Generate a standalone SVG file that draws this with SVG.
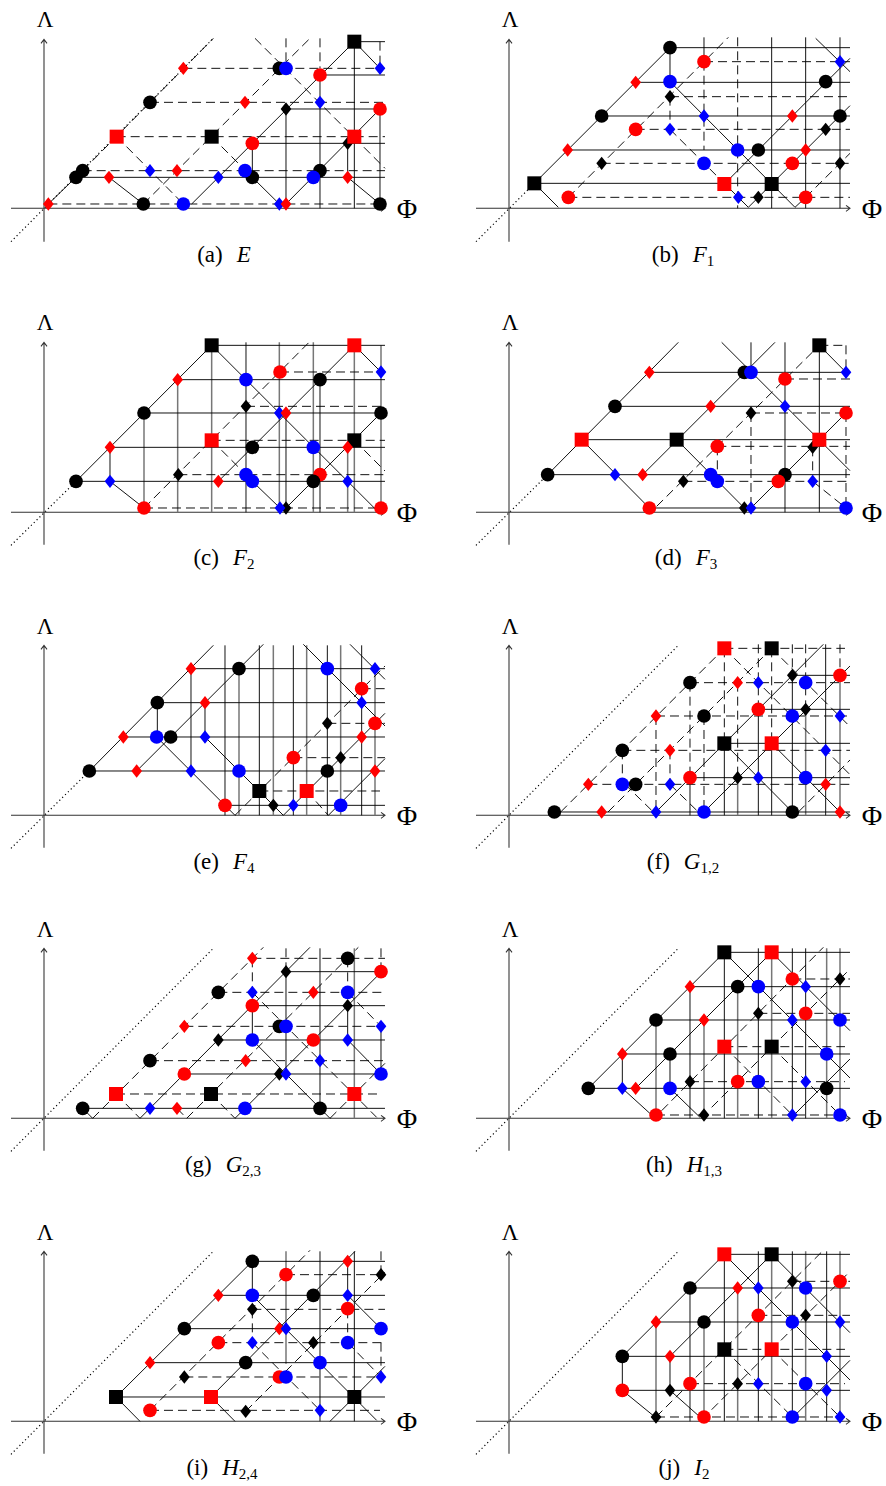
<svg xmlns="http://www.w3.org/2000/svg" xmlns:xlink="http://www.w3.org/1999/xlink" width="886" height="1486" viewBox="0 0 886 1486">
<style>
.k{fill:#000}.r{fill:#f00}.b{fill:#00f}
.s{stroke:#000;stroke-width:2.8;fill:none}
.g{stroke:#777;stroke-width:4.5;fill:none}
.d{stroke:#000;stroke-width:2.8;fill:none;stroke-dasharray:27 15}
.o{stroke:#000;stroke-width:3.6;fill:none;stroke-dasharray:3.5 8.5}
.ax{stroke:#333;stroke-width:3.2;fill:none}
text{font-family:"Liberation Serif","DejaVu Serif",serif;fill:#000}
.lam{font-size:23px}.phi{font-size:28px}.cap{font-size:23px}
.it{font-style:italic}.sub{font-size:15px}
</style>
<defs>
<circle id="C" r="20.5"/>
<rect id="S" x="-21" y="-21" width="42" height="42"/>
<path id="D" d="M0,-20 L16,0 L0,20 L-16,0Z"/>
</defs>

<!-- Panel (a) -->
<g id="pa" transform="translate(0 0) scale(0.333333)">
<g id="pa-conn">
<path class="ax" d="M33,625 H1155 M1143,616 L1155,625 L1143,634 M132,725 V118 M123,130 L132,118 L141,130"/>
<path class="o" d="M33,725 L640,115"/>
<path class="s" d="M145,612 L248,512 M228,532 H1155 M327,532 L430,612 M575,612 L1063,125 M757,532 L838,612 M858,612 L1150,317 M1043,532 L1140,612 M1063,125 L1140,205 M858,327 V625 M960,225 V625 M1063,125 V625 M1140,327 V612 M757,430 V532 M1043,430 V532 M1063,125 H1155 M960,225 H1155 M858,327 H1155 M757,430 H1155"/>
<path class="d" d="M248,512 L640,115 M248,512 H1155 M145,612 H1140 M430,612 L930,115 M350,410 L550,612 M635,410 L740,515 M765,115 L1155,505 M858,115 V205 M960,115 V205 M1140,125 V205 M550,205 H1155 M450,307 H1155 M350,410 H1155"/>
</g>
<g id="pa-nodes">
<use id="a1" href="#C" x="228" y="532" class="k"/>
<use id="a2" href="#C" x="248" y="512" class="k"/>
<use id="a3" href="#C" x="430" y="612" class="k"/>
<use id="a4" href="#C" x="757" y="532" class="k"/>
<use id="a5" href="#C" x="960" y="512" class="k"/>
<use id="a6" href="#C" x="1140" y="612" class="k"/>
<use id="a7" href="#S" x="635" y="410" class="k"/>
<use id="a8" href="#D" x="1043" y="430" class="k"/>
<use id="a9" href="#C" x="450" y="307" class="k"/>
<use id="a10" href="#D" x="858" y="327" class="k"/>
<use id="a11" href="#C" x="838" y="205" class="k"/>
<use id="a12" href="#S" x="1063" y="125" class="k"/>
<use id="a13" href="#D" x="450" y="512" class="b"/>
<use id="a14" href="#C" x="550" y="612" class="b"/>
<use id="a15" href="#D" x="655" y="532" class="b"/>
<use id="a16" href="#C" x="735" y="512" class="b"/>
<use id="a17" href="#D" x="838" y="612" class="b"/>
<use id="a18" href="#C" x="940" y="532" class="b"/>
<use id="a19" href="#D" x="960" y="307" class="b"/>
<use id="a20" href="#C" x="858" y="205" class="b"/>
<use id="a21" href="#D" x="1140" y="205" class="b"/>
<use id="a22" href="#D" x="145" y="612" class="r"/>
<use id="a23" href="#D" x="327" y="532" class="r"/>
<use id="a24" href="#D" x="531" y="512" class="r"/>
<use id="a25" href="#D" x="858" y="612" class="r"/>
<use id="a26" href="#D" x="1043" y="532" class="r"/>
<use id="a27" href="#S" x="350" y="410" class="r"/>
<use id="a28" href="#C" x="757" y="430" class="r"/>
<use id="a29" href="#S" x="1063" y="410" class="r"/>
<use id="a30" href="#D" x="735" y="307" class="r"/>
<use id="a31" href="#C" x="1140" y="327" class="r"/>
<use id="a32" href="#D" x="550" y="205" class="r"/>
<use id="a33" href="#C" x="960" y="225" class="r"/>
</g>
</g>

<!-- Panel (b) -->
<g id="pb" transform="translate(465 0) scale(0.333333)">
<g id="pb-conn">
<path class="ax" d="M33,625 H1155 M1143,616 L1155,625 L1143,634 M132,725 V118 M123,130 L132,118 L141,130"/>
<path class="o" d="M33,725 L208,550"/>
<path class="s" d="M208,550 L615,143 M208,550 L280,622 M208,550 H1155 M308,450 H1155 M410,348 H1155 M512,247 H1155 M615,143 H1155 M615,143 V245 M615,245 L990,622 M820,592 L850,622 L1155,317 M778,552 L1155,175 M990,622 L1022,592 M1052,115 L1155,215 M717,112 V185 M920,112 V625 M1022,112 V625 M1125,112 V625"/>
<path class="d" d="M310,592 L790,112 M310,592 H1155 M410,490 H1155 M512,388 H1155 M615,290 H1155 M717,185 H1155 M615,290 V388 M615,388 L820,592 M1022,592 L1155,460 M717,185 V450 M818,112 V625"/>
</g>
<g id="pb-nodes">
<use id="b1" href="#S" x="208" y="550" class="k"/>
<use id="b2" href="#D" x="410" y="490" class="k"/>
<use id="b3" href="#C" x="410" y="348" class="k"/>
<use id="b4" href="#D" x="615" y="290" class="k"/>
<use id="b5" href="#C" x="615" y="143" class="k"/>
<use id="b6" href="#C" x="880" y="450" class="k"/>
<use id="b7" href="#D" x="880" y="592" class="k"/>
<use id="b8" href="#S" x="920" y="552" class="k"/>
<use id="b9" href="#D" x="1082" y="388" class="k"/>
<use id="b10" href="#C" x="1082" y="245" class="k"/>
<use id="b11" href="#C" x="1125" y="348" class="k"/>
<use id="b12" href="#D" x="1125" y="490" class="k"/>
<use id="b13" href="#D" x="615" y="388" class="b"/>
<use id="b14" href="#C" x="615" y="245" class="b"/>
<use id="b15" href="#D" x="717" y="348" class="b"/>
<use id="b16" href="#C" x="717" y="490" class="b"/>
<use id="b17" href="#D" x="820" y="592" class="b"/>
<use id="b18" href="#C" x="818" y="450" class="b"/>
<use id="b19" href="#D" x="1125" y="185" class="b"/>
<use id="b20" href="#C" x="310" y="592" class="r"/>
<use id="b21" href="#D" x="308" y="450" class="r"/>
<use id="b22" href="#C" x="512" y="388" class="r"/>
<use id="b23" href="#D" x="512" y="247" class="r"/>
<use id="b24" href="#C" x="717" y="185" class="r"/>
<use id="b25" href="#S" x="778" y="552" class="r"/>
<use id="b26" href="#C" x="982" y="490" class="r"/>
<use id="b27" href="#D" x="982" y="348" class="r"/>
<use id="b28" href="#D" x="1022" y="450" class="r"/>
<use id="b29" href="#C" x="1022" y="592" class="r"/>
</g>
</g>

<!-- Panel (c) -->
<g id="pc" transform="translate(0 303) scale(0.333333)">
<g id="pc-conn">
<path class="ax" d="M33,628 H1155 M1143,619 L1155,628 L1143,637 M132,725 V118 M123,130 L132,118 L141,130"/>
<path class="o" d="M33,727 L228,535"/>
<path class="g" d="M432,330 V628 M533,230 V628 M635,127 V628 M838,118 V628 M940,118 V628 M1043,433 V628 M1063,118 V628 M1143,127 V628"/>
<path class="s" d="M228,535 L635,127 M635,127 L1128,620 M330,535 L432,615 M655,535 L1063,127 M757,535 L840,615 M858,615 L1143,330 M1063,127 L1143,207 M635,127 H1155 M533,230 H1155 M432,330 H1155 M330,433 H1155 M228,535 H1155 M330,433 V535 M738,118 V628 M858,330 V615 M960,230 V628"/>
<path class="d" d="M840,207 H1155 M738,310 H1155 M635,412 H1155 M535,515 H1155 M432,615 H1155 M432,615 L930,115 M635,412 L740,517 M1063,412 L1155,504"/>
</g>
<g id="pc-nodes">
<use id="c1" href="#C" x="228" y="535" class="k"/>
<use id="c2" href="#C" x="432" y="330" class="k"/>
<use id="c3" href="#S" x="635" y="127" class="k"/>
<use id="c4" href="#D" x="535" y="515" class="k"/>
<use id="c5" href="#D" x="738" y="310" class="k"/>
<use id="c6" href="#C" x="757" y="433" class="k"/>
<use id="c7" href="#D" x="858" y="615" class="k"/>
<use id="c8" href="#C" x="960" y="230" class="k"/>
<use id="c9" href="#S" x="1063" y="412" class="k"/>
<use id="c10" href="#C" x="1143" y="330" class="k"/>
<use id="c11" href="#D" x="330" y="535" class="b"/>
<use id="c12" href="#C" x="738" y="230" class="b"/>
<use id="c13" href="#C" x="738" y="515" class="b"/>
<use id="c14" href="#C" x="757" y="535" class="b"/>
<use id="c15" href="#D" x="838" y="330" class="b"/>
<use id="c16" href="#D" x="840" y="615" class="b"/>
<use id="c17" href="#C" x="940" y="433" class="b"/>
<use id="c18" href="#D" x="1043" y="535" class="b"/>
<use id="c19" href="#D" x="1143" y="207" class="b"/>
<use id="c20" href="#D" x="330" y="433" class="r"/>
<use id="c21" href="#D" x="533" y="230" class="r"/>
<use id="c22" href="#C" x="432" y="615" class="r"/>
<use id="c23" href="#S" x="635" y="412" class="r"/>
<use id="c24" href="#D" x="655" y="535" class="r"/>
<use id="c25" href="#D" x="858" y="330" class="r"/>
<use id="c26" href="#C" x="840" y="207" class="r"/>
<use id="c27" href="#C" x="960" y="515" class="r"/>
<use id="c28" href="#C" x="940" y="535" class="k"/>
<use id="c29" href="#D" x="1043" y="433" class="r"/>
<use id="c30" href="#S" x="1063" y="127" class="r"/>
<use id="c31" href="#C" x="1143" y="615" class="r"/>
</g>
</g>

<!-- Panel (d) -->
<g id="pd" transform="translate(465 303) scale(0.333333)">
<g id="pd-conn">
<path class="ax" d="M33,628 H1155 M1143,619 L1155,628 L1143,637 M132,725 V118 M123,130 L132,118 L141,130"/>
<path class="o" d="M33,727 L248,515"/>
<path class="s" d="M248,515 L640,118 M350,410 L553,615 M533,515 L930,118 M635,410 L838,615 M770,118 L1155,503 M858,615 L1155,318 M1063,127 L1143,208 M553,208 H1155 M450,310 H1155 M350,410 H1155 M248,515 H1155 M553,615 H1143 M858,118 V208 M960,118 V628 M1063,127 V628"/>
<path class="d" d="M575,610 L1063,127 M1043,535 L1143,615 M1063,127 H1143 M960,228 H1155 M858,330 H1155 M757,430 H1155 M655,535 H1155 M858,330 V615 M1143,127 V208 M1143,330 V615 M1043,433 V535 M757,430 V535"/>
</g>
<g id="pd-nodes">
<use id="d1" href="#C" x="248" y="515" class="k"/>
<use id="d2" href="#C" x="450" y="310" class="k"/>
<use id="d3" href="#S" x="635" y="410" class="k"/>
<use id="d4" href="#C" x="838" y="208" class="k"/>
<use id="d5" href="#D" x="655" y="535" class="k"/>
<use id="d6" href="#D" x="838" y="615" class="k"/>
<use id="d7" href="#D" x="858" y="330" class="k"/>
<use id="d8" href="#C" x="960" y="515" class="k"/>
<use id="d9" href="#D" x="1043" y="433" class="k"/>
<use id="d10" href="#S" x="1063" y="127" class="k"/>
<use id="d11" href="#D" x="450" y="515" class="b"/>
<use id="d12" href="#C" x="858" y="208" class="b"/>
<use id="d13" href="#C" x="737" y="515" class="b"/>
<use id="d14" href="#C" x="757" y="535" class="b"/>
<use id="d15" href="#D" x="858" y="615" class="b"/>
<use id="d16" href="#D" x="960" y="310" class="b"/>
<use id="d17" href="#D" x="1043" y="535" class="b"/>
<use id="d18" href="#D" x="1143" y="208" class="b"/>
<use id="d19" href="#C" x="1143" y="615" class="b"/>
<use id="d20" href="#S" x="350" y="410" class="r"/>
<use id="d21" href="#D" x="553" y="208" class="r"/>
<use id="d22" href="#D" x="533" y="515" class="r"/>
<use id="d23" href="#C" x="553" y="615" class="r"/>
<use id="d24" href="#D" x="737" y="310" class="r"/>
<use id="d25" href="#C" x="757" y="430" class="r"/>
<use id="d26" href="#C" x="960" y="228" class="r"/>
<use id="d27" href="#C" x="940" y="535" class="r"/>
<use id="d28" href="#S" x="1063" y="410" class="r"/>
<use id="d29" href="#C" x="1143" y="330" class="r"/>
</g>
</g>

<!-- Panel (e) -->
<g id="pe" transform="translate(0 606) scale(0.333333)">
<g id="pe-conn">
<path class="ax" d="M33,628 H1155 M1143,619 L1155,628 L1143,637 M132,725 V118 M123,130 L132,118 L141,130"/>
<path class="o" d="M33,727 L268,495"/>
<path class="g" d="M717,188 V628 M820,118 V628 M920,118 V628 M1022,118 V628 M1125,188 V628"/>
<path class="s" d="M268,495 L640,118 M410,495 L790,115 M470,393 L705,628 M615,393 L850,628 M850,628 L1155,322 M985,628 L1155,458 M910,115 L1155,360 M1050,115 L1155,220 M268,495 H1155 M370,393 H1155 M472,290 H1155 M573,188 H1155 M675,598 H1155 M472,290 V393 M573,188 V495 M615,290 V393 M675,118 V628 M778,118 V628 M880,118 V628 M982,118 V628 M1085,118 V628"/>
<path class="d" d="M705,628 L1155,180 M778,555 H1140 M880,455 H1155 M982,352 H1155 M1085,248 H1155 M920,555 L985,628"/>
</g>
<g id="pe-nodes">
<use id="e1" href="#C" x="268" y="495" class="k"/>
<use id="e2" href="#C" x="472" y="290" class="k"/>
<use id="e3" href="#C" x="717" y="188" class="k"/>
<use id="e4" href="#S" x="778" y="555" class="k"/>
<use id="e5" href="#D" x="820" y="598" class="k"/>
<use id="e6" href="#D" x="982" y="352" class="k"/>
<use id="e7" href="#C" x="982" y="495" class="k"/>
<use id="e8" href="#D" x="1022" y="455" class="k"/>
<use id="e9" href="#C" x="470" y="393" class="b"/>
<use id="e10" href="#C" x="512" y="393" class="k"/>
<use id="e11" href="#D" x="615" y="393" class="b"/>
<use id="e12" href="#D" x="573" y="495" class="b"/>
<use id="e13" href="#C" x="717" y="495" class="b"/>
<use id="e14" href="#D" x="880" y="598" class="b"/>
<use id="e15" href="#C" x="982" y="188" class="b"/>
<use id="e16" href="#C" x="1022" y="598" class="b"/>
<use id="e17" href="#D" x="1085" y="290" class="b"/>
<use id="e18" href="#D" x="1125" y="188" class="b"/>
<use id="e19" href="#D" x="410" y="495" class="r"/>
<use id="e20" href="#D" x="370" y="393" class="r"/>
<use id="e21" href="#D" x="573" y="188" class="r"/>
<use id="e22" href="#D" x="615" y="290" class="r"/>
<use id="e23" href="#C" x="675" y="598" class="r"/>
<use id="e24" href="#S" x="920" y="555" class="r"/>
<use id="e25" href="#C" x="880" y="455" class="r"/>
<use id="e26" href="#C" x="1085" y="248" class="r"/>
<use id="e27" href="#D" x="1085" y="393" class="r"/>
<use id="e28" href="#C" x="1125" y="352" class="r"/>
<use id="e29" href="#D" x="1125" y="495" class="r"/>
</g>
</g>

<!-- Panel (f) -->
<g id="pf" transform="translate(465 606) scale(0.333333)">
<g id="pf-conn">
<path class="ax" d="M33,628 H1155 M1143,619 L1155,628 L1143,637 M132,725 V118 M123,130 L132,118 L141,130"/>
<path class="o" d="M33,727 L640,118"/>
<path class="g" d="M818,515 V628 M1022,310 V628 M1125,208 V628"/>
<path class="s" d="M268,618 H1155 M573,618 L1075,115 M717,618 L1155,180 M778,412 L982,618 M920,412 L1125,618 M675,515 H1155 M778,412 H1155 M880,310 H1155 M982,208 H1155 M675,515 V628 M778,412 V628 M880,310 V628 M920,412 V628 M982,208 V628 M1082,115 V628"/>
<path class="d" d="M287,618 L778,127 M429,618 L920,127 M480,535 L565,618 M615,535 L700,618 M778,127 L1155,506 M920,127 L1155,362 M1000,618 L1155,462 M778,127 H1140 M675,230 H1155 M573,330 H1155 M472,433 H1155 M370,535 H1155 M472,433 V535 M573,330 V618 M615,433 V535 M675,230 V515 M717,330 V618 M778,127 V412 M818,230 V515 M880,115 V310 M920,127 V412 M982,115 V208 M1022,115 V310 M1125,115 V208"/>
</g>
<g id="pf-nodes">
<use id="f1" href="#C" x="268" y="618" class="k"/>
<use id="f2" href="#C" x="512" y="535" class="k"/>
<use id="f3" href="#C" x="472" y="433" class="k"/>
<use id="f4" href="#C" x="675" y="230" class="k"/>
<use id="f5" href="#S" x="920" y="127" class="k"/>
<use id="f6" href="#C" x="717" y="330" class="k"/>
<use id="f7" href="#S" x="778" y="412" class="k"/>
<use id="f8" href="#D" x="818" y="515" class="k"/>
<use id="f9" href="#D" x="982" y="208" class="k"/>
<use id="f10" href="#D" x="1022" y="310" class="k"/>
<use id="f11" href="#C" x="982" y="618" class="k"/>
<use id="f12" href="#C" x="472" y="535" class="b"/>
<use id="f13" href="#D" x="615" y="535" class="b"/>
<use id="f14" href="#D" x="880" y="230" class="b"/>
<use id="f15" href="#D" x="573" y="618" class="b"/>
<use id="f16" href="#C" x="717" y="618" class="b"/>
<use id="f17" href="#D" x="880" y="515" class="b"/>
<use id="f18" href="#C" x="1022" y="230" class="b"/>
<use id="f19" href="#C" x="982" y="330" class="b"/>
<use id="f20" href="#D" x="1125" y="330" class="b"/>
<use id="f21" href="#D" x="1082" y="433" class="b"/>
<use id="f22" href="#C" x="1022" y="515" class="b"/>
<use id="f23" href="#D" x="410" y="618" class="r"/>
<use id="f24" href="#D" x="370" y="535" class="r"/>
<use id="f25" href="#D" x="573" y="330" class="r"/>
<use id="f26" href="#S" x="778" y="127" class="r"/>
<use id="f27" href="#D" x="615" y="433" class="r"/>
<use id="f28" href="#D" x="818" y="230" class="r"/>
<use id="f29" href="#C" x="675" y="515" class="r"/>
<use id="f30" href="#C" x="880" y="310" class="r"/>
<use id="f31" href="#S" x="920" y="412" class="r"/>
<use id="f32" href="#C" x="1125" y="208" class="r"/>
<use id="f33" href="#D" x="1082" y="535" class="r"/>
<use id="f34" href="#D" x="1125" y="618" class="r"/>
</g>
</g>

<!-- Panel (g) -->
<g id="pg" transform="translate(0 909) scale(0.333333)">
<g id="pg-conn">
<path class="ax" d="M33,628 H1155 M1143,619 L1155,628 L1143,637 M132,725 V118 M123,130 L132,118 L141,130"/>
<path class="o" d="M33,727 L640,118"/>
<path class="g" d="M1063,118 V628"/>
<path class="s" d="M248,598 H1155 M553,495 H1155 M655,393 H1155 M757,290 H1155 M858,188 H1155 M248,598 L278,628 M420,628 L930,115 M705,628 L1155,178 M757,393 L990,628 M1043,393 L1143,495 M757,290 V393 M858,188 V495 M960,118 V598 M1043,290 V393 M1143,352 V495"/>
<path class="d" d="M278,628 L790,115 M348,555 L420,628 M531,598 L560,628 L1075,115 M633,555 L705,628 M757,250 L1130,625 M990,628 L1155,463 M1043,250 L1143,352 M348,555 H1140 M450,455 H1155 M553,352 H1155 M655,250 H1155 M757,148 H1155 M757,148 V290 M858,118 V188 M1043,148 V250 M1143,118 V188"/>
</g>
<g id="pg-nodes">
<use id="g1" href="#C" x="248" y="598" class="k"/>
<use id="g2" href="#S" x="633" y="555" class="k"/>
<use id="g3" href="#C" x="450" y="455" class="k"/>
<use id="g4" href="#D" x="655" y="393" class="k"/>
<use id="g5" href="#C" x="655" y="250" class="k"/>
<use id="g6" href="#C" x="838" y="352" class="k"/>
<use id="g7" href="#D" x="858" y="188" class="k"/>
<use id="g8" href="#D" x="838" y="495" class="k"/>
<use id="g9" href="#C" x="960" y="598" class="k"/>
<use id="g10" href="#C" x="1043" y="148" class="k"/>
<use id="g11" href="#D" x="1043" y="290" class="k"/>
<use id="g12" href="#D" x="450" y="598" class="b"/>
<use id="g13" href="#C" x="735" y="598" class="b"/>
<use id="g14" href="#D" x="757" y="250" class="b"/>
<use id="g15" href="#C" x="757" y="393" class="b"/>
<use id="g16" href="#C" x="858" y="352" class="b"/>
<use id="g17" href="#D" x="858" y="495" class="b"/>
<use id="g18" href="#D" x="960" y="455" class="b"/>
<use id="g19" href="#C" x="1043" y="250" class="b"/>
<use id="g20" href="#D" x="1043" y="393" class="b"/>
<use id="g21" href="#D" x="1143" y="352" class="b"/>
<use id="g22" href="#C" x="1143" y="495" class="b"/>
<use id="g23" href="#S" x="348" y="555" class="r"/>
<use id="g24" href="#D" x="531" y="598" class="r"/>
<use id="g25" href="#C" x="553" y="495" class="r"/>
<use id="g26" href="#D" x="553" y="352" class="r"/>
<use id="g27" href="#D" x="757" y="148" class="r"/>
<use id="g28" href="#C" x="757" y="290" class="r"/>
<use id="g29" href="#D" x="737" y="455" class="r"/>
<use id="g30" href="#D" x="940" y="250" class="r"/>
<use id="g31" href="#C" x="940" y="393" class="r"/>
<use id="g32" href="#S" x="1063" y="555" class="r"/>
<use id="g33" href="#C" x="1143" y="188" class="r"/>
</g>
</g>

<!-- Panel (h) -->
<g id="ph" transform="translate(465 909) scale(0.333333)">
<g id="ph-conn">
<path class="ax" d="M33,628 H1155 M1143,619 L1155,628 L1143,637 M132,725 V118 M123,130 L132,118 L141,130"/>
<path class="o" d="M33,727 L640,118"/>
<path class="g" d="M573,333 V618 M717,333 V628 M818,233 V628 M920,130 V628 M1085,118 V628 M1125,118 V628"/>
<path class="s" d="M370,538 L778,130 M778,130 L1155,507 M512,538 L935,115 M920,130 L1155,365 M472,538 L560,618 M615,538 L705,625 M990,615 L1155,450 M778,130 H1155 M675,233 H1155 M573,333 H1155 M472,435 H1155 M370,538 H1155 M472,435 V538 M615,435 V538 M675,233 V628 M778,130 V628 M880,118 V628 M982,118 V628 M1022,118 V628"/>
<path class="d" d="M590,605 L1075,115 M740,595 L1155,180 M778,413 L982,618 M920,413 L1125,618 M982,210 H1155 M880,313 H1155 M778,413 H1140 M675,518 H1140 M573,618 H1155"/>
</g>
<g id="ph-nodes">
<use id="h1" href="#C" x="370" y="538" class="k"/>
<use id="h2" href="#C" x="573" y="333" class="k"/>
<use id="h3" href="#S" x="778" y="130" class="k"/>
<use id="h4" href="#C" x="615" y="435" class="k"/>
<use id="h5" href="#C" x="818" y="233" class="k"/>
<use id="h6" href="#D" x="675" y="518" class="k"/>
<use id="h7" href="#D" x="717" y="618" class="k"/>
<use id="h8" href="#D" x="880" y="313" class="k"/>
<use id="h9" href="#S" x="920" y="413" class="k"/>
<use id="h10" href="#D" x="1125" y="210" class="k"/>
<use id="h11" href="#C" x="1085" y="538" class="k"/>
<use id="h12" href="#D" x="472" y="538" class="b"/>
<use id="h13" href="#C" x="615" y="538" class="b"/>
<use id="h14" href="#C" x="880" y="233" class="b"/>
<use id="h15" href="#C" x="880" y="518" class="b"/>
<use id="h16" href="#D" x="1022" y="233" class="b"/>
<use id="h17" href="#D" x="982" y="333" class="b"/>
<use id="h18" href="#C" x="1125" y="333" class="b"/>
<use id="h19" href="#C" x="1085" y="435" class="b"/>
<use id="h20" href="#D" x="1022" y="518" class="b"/>
<use id="h21" href="#D" x="982" y="618" class="b"/>
<use id="h22" href="#C" x="1125" y="618" class="b"/>
<use id="h23" href="#D" x="512" y="538" class="r"/>
<use id="h24" href="#D" x="472" y="435" class="r"/>
<use id="h25" href="#D" x="675" y="233" class="r"/>
<use id="h26" href="#S" x="920" y="130" class="r"/>
<use id="h27" href="#C" x="573" y="618" class="r"/>
<use id="h28" href="#D" x="717" y="333" class="r"/>
<use id="h29" href="#S" x="778" y="413" class="r"/>
<use id="h30" href="#C" x="818" y="518" class="r"/>
<use id="h31" href="#C" x="982" y="210" class="r"/>
<use id="h32" href="#C" x="1022" y="313" class="r"/>
</g>
</g>

<!-- Panel (i) -->
<g id="pi" transform="translate(0 1212) scale(0.333333)">
<g id="pi-conn">
<path class="ax" d="M33,628 H1155 M1143,619 L1155,628 L1143,637 M132,725 V118 M123,130 L132,118 L141,130"/>
<path class="o" d="M33,727 L640,118"/>
<path class="g" d="M858,118 V455"/>
<path class="s" d="M348,555 L757,148 M348,555 L420,628 M633,555 L1065,118 M633,555 L705,628 M757,250 L1130,625 M990,628 L1155,463 M1043,250 L1143,350 M348,555 H1155 M450,452 H1155 M553,350 H1155 M655,250 H1155 M757,148 H1155 M757,148 V250 M960,118 V628 M1063,118 V628 M1043,148 V250"/>
<path class="d" d="M450,595 L930,115 M737,598 L1155,180 M757,392 L960,595 M1043,392 L1143,495 M450,595 H1140 M553,495 H1155 M655,392 H1155 M757,292 H1155 M858,188 H1155 M757,292 V392 M1043,292 V392 M1143,118 V188 M1143,392 V495"/>
</g>
<g id="pi-nodes">
<use id="i1" href="#S" x="348" y="555" class="k"/>
<use id="i2" href="#D" x="553" y="495" class="k"/>
<use id="i3" href="#C" x="553" y="350" class="k"/>
<use id="i4" href="#D" x="757" y="292" class="k"/>
<use id="i5" href="#C" x="757" y="148" class="k"/>
<use id="i6" href="#D" x="737" y="598" class="k"/>
<use id="i7" href="#C" x="737" y="452" class="k"/>
<use id="i8" href="#C" x="940" y="250" class="k"/>
<use id="i9" href="#D" x="940" y="392" class="k"/>
<use id="i10" href="#S" x="1063" y="555" class="k"/>
<use id="i11" href="#D" x="1143" y="188" class="k"/>
<use id="i12" href="#C" x="450" y="595" class="r"/>
<use id="i13" href="#D" x="450" y="452" class="r"/>
<use id="i14" href="#C" x="655" y="392" class="r"/>
<use id="i15" href="#D" x="655" y="250" class="r"/>
<use id="i16" href="#S" x="633" y="555" class="r"/>
<use id="i17" href="#C" x="838" y="495" class="r"/>
<use id="i18" href="#D" x="838" y="350" class="r"/>
<use id="i19" href="#C" x="858" y="188" class="r"/>
<use id="i20" href="#D" x="1043" y="148" class="r"/>
<use id="i21" href="#C" x="1043" y="290" class="r"/>
<use id="i22" href="#C" x="757" y="250" class="b"/>
<use id="i23" href="#D" x="757" y="392" class="b"/>
<use id="i24" href="#C" x="858" y="495" class="b"/>
<use id="i25" href="#D" x="858" y="350" class="b"/>
<use id="i26" href="#C" x="960" y="452" class="b"/>
<use id="i27" href="#D" x="960" y="595" class="b"/>
<use id="i28" href="#D" x="1043" y="250" class="b"/>
<use id="i29" href="#C" x="1043" y="392" class="b"/>
<use id="i30" href="#C" x="1143" y="350" class="b"/>
<use id="i31" href="#D" x="1143" y="495" class="b"/>
</g>
</g>

<!-- Panel (j) -->
<g id="pj" transform="translate(465 1212) scale(0.333333)">
<g id="pj-conn">
<path class="ax" d="M33,628 H1155 M1143,619 L1155,628 L1143,637 M132,725 V118 M123,130 L132,118 L141,130"/>
<path class="o" d="M33,727 L640,118"/>
<path class="g" d="M573,330 V615 M717,330 V628 M818,228 V628 M920,127 V628 M1022,118 V628 M1125,118 V628"/>
<path class="s" d="M472,433 L778,127 M472,433 V535 M472,535 L570,615 M778,127 L1155,504 M615,433 L935,112 M920,127 L1155,362 M615,535 L705,615 M990,610 L1155,445 M778,127 H1155 M675,228 H1155 M573,330 H1155 M472,433 H1155 M472,535 H1155 M615,433 V535 M675,228 V628 M778,127 V628 M880,118 V628 M982,118 V628 M1085,118 V628"/>
<path class="d" d="M573,615 L1075,115 M740,593 L1155,178 M778,412 L982,615 M920,412 L1125,615 M982,208 H1155 M880,310 H1155 M778,412 H1140 M675,515 H1140 M573,615 H1140"/>
</g>
<g id="pj-nodes">
<use id="j1" href="#S" x="920" y="127" class="k"/>
<use id="j2" href="#C" x="675" y="228" class="k"/>
<use id="j3" href="#D" x="982" y="208" class="k"/>
<use id="j4" href="#C" x="717" y="330" class="k"/>
<use id="j5" href="#D" x="1022" y="310" class="k"/>
<use id="j6" href="#C" x="472" y="433" class="k"/>
<use id="j7" href="#S" x="778" y="412" class="k"/>
<use id="j8" href="#D" x="615" y="535" class="k"/>
<use id="j9" href="#D" x="818" y="515" class="k"/>
<use id="j10" href="#D" x="573" y="615" class="k"/>
<use id="j11" href="#D" x="880" y="228" class="b"/>
<use id="j12" href="#C" x="1022" y="228" class="b"/>
<use id="j13" href="#C" x="982" y="330" class="b"/>
<use id="j14" href="#D" x="1125" y="330" class="b"/>
<use id="j15" href="#D" x="1085" y="433" class="b"/>
<use id="j16" href="#D" x="880" y="515" class="b"/>
<use id="j17" href="#C" x="1022" y="515" class="b"/>
<use id="j18" href="#D" x="1085" y="535" class="b"/>
<use id="j19" href="#C" x="982" y="615" class="b"/>
<use id="j20" href="#D" x="1125" y="615" class="b"/>
<use id="j21" href="#S" x="778" y="127" class="r"/>
<use id="j22" href="#D" x="818" y="228" class="r"/>
<use id="j23" href="#C" x="1125" y="208" class="r"/>
<use id="j24" href="#D" x="573" y="330" class="r"/>
<use id="j25" href="#C" x="880" y="310" class="r"/>
<use id="j26" href="#D" x="615" y="433" class="r"/>
<use id="j27" href="#S" x="920" y="412" class="r"/>
<use id="j28" href="#C" x="472" y="535" class="r"/>
<use id="j29" href="#C" x="675" y="515" class="r"/>
<use id="j30" href="#C" x="717" y="615" class="r"/>
</g>
</g>

<!-- Axis labels and captions -->
<g id="labels">
<text class="lam" x="45" y="27" text-anchor="middle">Λ</text>
<text class="lam" x="510" y="27" text-anchor="middle">Λ</text>
<text class="lam" x="45" y="330" text-anchor="middle">Λ</text>
<text class="lam" x="510" y="330" text-anchor="middle">Λ</text>
<text class="lam" x="45" y="633.5" text-anchor="middle">Λ</text>
<text class="lam" x="510" y="633.5" text-anchor="middle">Λ</text>
<text class="lam" x="45" y="937" text-anchor="middle">Λ</text>
<text class="lam" x="510" y="937" text-anchor="middle">Λ</text>
<text class="lam" x="45" y="1240" text-anchor="middle">Λ</text>
<text class="lam" x="510" y="1240" text-anchor="middle">Λ</text>
<text class="phi" x="407" y="218" text-anchor="middle">Φ</text>
<text class="phi" x="872" y="218" text-anchor="middle">Φ</text>
<text class="phi" x="407" y="521.5" text-anchor="middle">Φ</text>
<text class="phi" x="872" y="521.5" text-anchor="middle">Φ</text>
<text class="phi" x="407" y="825" text-anchor="middle">Φ</text>
<text class="phi" x="872" y="825" text-anchor="middle">Φ</text>
<text class="phi" x="407" y="1128" text-anchor="middle">Φ</text>
<text class="phi" x="872" y="1128" text-anchor="middle">Φ</text>
<text class="phi" x="407" y="1431" text-anchor="middle">Φ</text>
<text class="phi" x="872" y="1431" text-anchor="middle">Φ</text>
<text class="cap" x="224" y="262" text-anchor="middle">(a)<tspan dx="14" class="it">E</tspan></text>
<text class="cap" x="683" y="262" text-anchor="middle">(b)<tspan dx="14" class="it">F</tspan><tspan class="sub" dy="4">1</tspan></text>
<text class="cap" x="224" y="565" text-anchor="middle">(c)<tspan dx="14" class="it">F</tspan><tspan class="sub" dy="4">2</tspan></text>
<text class="cap" x="686" y="565" text-anchor="middle">(d)<tspan dx="14" class="it">F</tspan><tspan class="sub" dy="4">3</tspan></text>
<text class="cap" x="224" y="868.5" text-anchor="middle">(e)<tspan dx="14" class="it">F</tspan><tspan class="sub" dy="4">4</tspan></text>
<text class="cap" x="683" y="868.5" text-anchor="middle">(f)<tspan dx="14" class="it">G</tspan><tspan class="sub" dy="4">1,2</tspan></text>
<text class="cap" x="223" y="1172" text-anchor="middle">(g)<tspan dx="14" class="it">G</tspan><tspan class="sub" dy="4">2,3</tspan></text>
<text class="cap" x="684" y="1172" text-anchor="middle">(h)<tspan dx="14" class="it">H</tspan><tspan class="sub" dy="4">1,3</tspan></text>
<text class="cap" x="222" y="1475" text-anchor="middle">(i)<tspan dx="14" class="it">H</tspan><tspan class="sub" dy="4">2,4</tspan></text>
<text class="cap" x="684" y="1475" text-anchor="middle">(j)<tspan dx="14" class="it">I</tspan><tspan class="sub" dy="4">2</tspan></text>
</g>
</svg>
